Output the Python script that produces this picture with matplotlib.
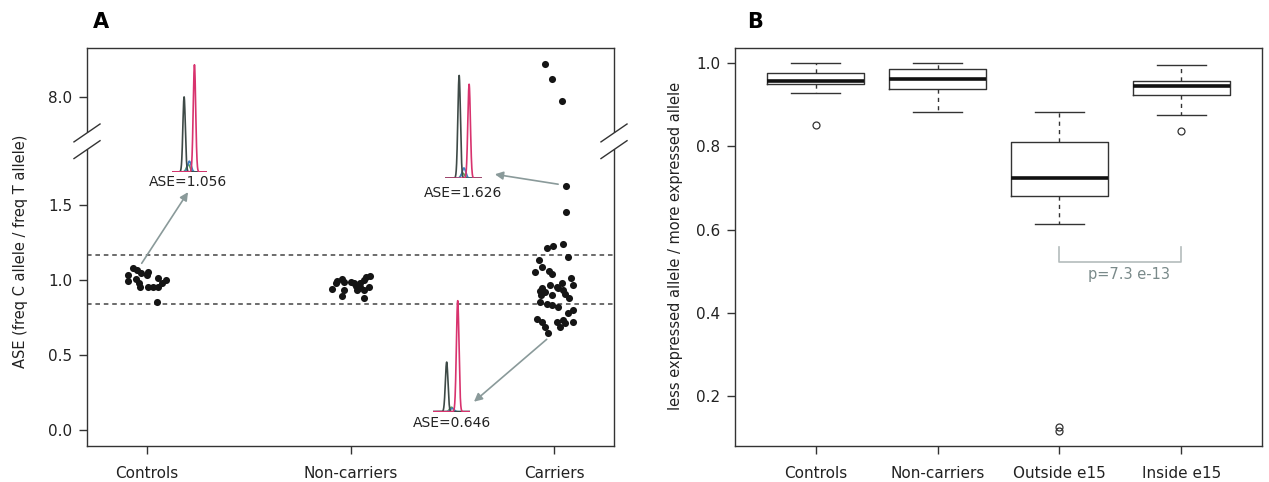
import numpy as np
import matplotlib
matplotlib.use("Agg")
import matplotlib.pyplot as plt

plt.rcParams['font.family'] = ['DejaVu Sans']

# ---- panel A data: ASE per sample (x jitter) ----
groups_a = ["Controls", "Non-carriers", "Carriers"]

controls_ase = [1.078, 1.067, 1.049, 1.056, 1.033, 1.033, 0.996, 1.004, 0.978,
                0.956, 0.956, 0.951, 1.011, 0.978, 1.000, 0.956, 0.851]
controls_jit = [-0.067, -0.051, -0.031, 0.006, -0.001, -0.092, -0.092, -0.056, -0.039,
                -0.034, 0.006, 0.031, 0.056, 0.072, 0.092, 0.056, 0.048]

noncarr_ase = [0.996, 1.004, 0.989, 0.938, 0.978, 0.933, 0.893, 0.989, 0.982, 0.960,
               0.944, 0.978, 1.000, 1.022, 1.027, 0.956, 0.933, 0.882, 0.933, 0.956]
noncarr_jit = [-0.065, -0.041, -0.033, -0.090, -0.069, -0.033, -0.041, 0.000, 0.016, 0.025,
               0.041, 0.049, 0.065, 0.074, 0.098, 0.090, 0.065, 0.065, 0.033, 0.049]

carriers_ase = [1.211, 1.227, 1.238, 1.156, 1.133, 1.089, 1.056, 1.062, 1.040, 1.011,
                0.967, 0.978, 0.956, 0.967, 0.944, 0.929, 0.922, 0.900, 0.944, 0.933,
                0.907, 0.878, 0.856, 0.840, 0.833, 0.818, 0.800, 0.778, 0.738, 0.722,
                0.722, 0.733, 0.722, 0.684, 0.646, 0.689, 0.711, 0.900, 1.626, 1.453,
                8.545, 8.295, 7.930]
carriers_jit = [-0.036, -0.003, 0.043, 0.070, -0.072, -0.057, -0.093, -0.023, -0.008, 0.082,
                0.095, 0.038, 0.013, -0.020, -0.060, -0.069, -0.044, -0.011, 0.021, 0.046,
                0.054, 0.075, -0.069, -0.036, -0.011, 0.021, 0.095, 0.070, -0.085, -0.060,
                0.013, 0.046, 0.095, -0.044, -0.028, 0.029, 0.054, -0.065, 0.057, 0.059,
                -0.044, -0.011, 0.041]

ase_upper = 1.17
ase_lower = 0.84
yticks_a = [0.0, 0.5, 1.0, 1.5, 8.0]
ylabels_a = ["0.0", "0.5", "1.0", "1.5", "8.0"]

# broken y axis: value knots -> drawn position knots
val_knots = [-1.0, 1.92, 7.4, 10.0]
pos_knots = [-1.0, 1.92, 1.982, 3.022]

# example chromatograms: (centre, height) of grey / red / small peaks
chrom_1056 = {"grey": (0.35, 0.70), "red": (0.646, 1.0), "blue": (0.50, 0.10), "green": (0.47, 0.07)}
chrom_1626 = {"grey": (0.39, 1.0), "red": (0.662, 0.914), "blue": (0.52, 0.10), "green": (0.49, 0.05)}
chrom_0646 = {"grey": (0.37, 0.447), "red": (0.668, 1.0), "blue": (0.52, 0.03), "green": (0.50, 0.04)}

# ---- panel B data: box statistics ----
groups_b = ["Controls", "Non-carriers", "Outside e15", "Inside e15"]
b_whislo = [0.927, 0.883, 0.614, 0.874]
b_q1 = [0.950, 0.938, 0.680, 0.922]
b_med = [0.956, 0.961, 0.723, 0.944]
b_q3 = [0.977, 0.985, 0.811, 0.958]
b_whishi = [0.999, 0.999, 0.883, 0.996]
b_fliers = [[0.850], [], [0.125, 0.116], [0.837]]
p_text = "p=7.3 e-13"

dark = "#333333"
arrow_col = "#8a9a9a"

fig = plt.figure(figsize=(12.69, 4.82), dpi=100)
axA = fig.add_axes([87/1269, 36.3/482, 527/1269, 397.4/482])
axB = fig.add_axes([735/1269, 36.3/482, 527/1269, 397.4/482])


def fwd(v):
    return np.interp(v, val_knots, pos_knots)


def inv(p):
    return np.interp(p, pos_knots, val_knots)


axA.set_yscale('function', functions=(fwd, inv))

for i, (vals, jit) in enumerate([(controls_ase, controls_jit),
                                 (noncarr_ase, noncarr_jit),
                                 (carriers_ase, carriers_jit)]):
    xs = [i + 1 + j for j in jit]
    axA.scatter(xs, vals, s=26, color="#151515", zorder=3, linewidths=0)

for yv in (ase_upper, ase_lower):
    axA.axhline(yv, color="#444444", lw=1.1, ls=(0, (3, 2.5)), zorder=1)

axA.set_xlim(0.705, 3.295)
axA.set_ylim(-0.105, 8.81)
axA.set_xticks([1, 2, 3])
axA.set_xticklabels(groups_a)
axA.set_yticks(yticks_a)
axA.set_yticklabels(ylabels_a)
axA.minorticks_off()
axA.set_ylabel("ASE (freq C allele / freq T allele)", fontsize=10.5, color="#222222")
axA.yaxis.set_label_coords(-0.112, 0.49)

# axis break marks
for xs in (0.0, 1.0):
    axA.add_patch(plt.Rectangle((xs - 0.01, 0.749), 0.02, 0.038, transform=axA.transAxes,
                                color="white", clip_on=False, zorder=5))
    for yc in (0.787, 0.745):
        axA.plot([xs - 0.0247, xs + 0.0247], [yc - 0.0225, yc + 0.0225], transform=axA.transAxes,
                 color=dark, lw=1.0, clip_on=False, zorder=6)

# chromatogram insets
grid = np.linspace(0, 1, 300)
chrom_cols = {"grey": "#3e4a47", "red": "#d8336e", "blue": "#3f7fc4", "green": "#5aa55a"}


def draw_chrom(bounds, peaks, label, label_xy):
    ins = axA.inset_axes(bounds)
    ins.axis("off")
    ins.set_xlim(0, 1)
    ins.set_ylim(0, 1.02)
    ins.plot([0, 1], [0.0, 0.0], color="#3e4a47", lw=1.0)
    for key in ("green", "blue", "grey", "red"):
        c, h = peaks[key]
        w = 0.035 if key in ("grey", "red") else 0.05
        ins.plot(grid, h * np.exp(-0.5 * ((grid - c) / w) ** 2), color=chrom_cols[key], lw=1.2)
    axA.text(label_xy[0], label_xy[1], label, transform=axA.transAxes, ha="center", va="center",
             fontsize=10, color="#222222")


draw_chrom([0.161, 0.689, 0.0664, 0.275], chrom_1056, "ASE=1.056", (0.192, 0.664))
draw_chrom([0.679, 0.673, 0.0696, 0.264], chrom_1626, "ASE=1.626", (0.7135, 0.636))
draw_chrom([0.6565, 0.0856, 0.0702, 0.285], chrom_0646, "ASE=0.646", (0.6926, 0.0564))

arrow_kw = dict(arrowstyle="-|>", color=arrow_col, lw=1.2, mutation_scale=12, shrinkA=0, shrinkB=0)
for tail, head in [((0.1038, 0.459), (0.1917, 0.638)),
                   ((0.894, 0.658), (0.774, 0.683)),
                   ((0.8723, 0.2677), (0.7343, 0.1107))]:
    axA.annotate("", xy=head, xytext=tail, xycoords="axes fraction", textcoords="axes fraction",
                 arrowprops=arrow_kw)

# ---- panel B ----
stats = []
for i in range(len(groups_b)):
    stats.append(dict(med=b_med[i], q1=b_q1[i], q3=b_q3[i], whislo=b_whislo[i],
                      whishi=b_whishi[i], fliers=b_fliers[i]))

axB.bxp(stats, positions=[1, 2, 3, 4], widths=0.8, capwidths=0.4, showfliers=True,
        boxprops=dict(color=dark, lw=1.0),
        medianprops=dict(color="#111111", lw=2.6),
        whiskerprops=dict(color=dark, lw=1.0, ls=(0, (3, 3))),
        capprops=dict(color=dark, lw=1.0),
        flierprops=dict(marker="o", markerfacecolor="none", markeredgecolor=dark,
                        markersize=5, markeredgewidth=0.9))

axB.set_xlim(0.34, 4.66)
axB.set_ylim(0.0806, 1.0354)
axB.set_xticks([1, 2, 3, 4])
axB.set_xticklabels(groups_b)
axB.set_yticks([0.2, 0.4, 0.6, 0.8, 1.0])
axB.set_yticklabels(["0.2", "0.4", "0.6", "0.8", "1.0"])
axB.set_ylabel("less expressed allele / more expressed allele", fontsize=10.5, color="#222222")
axB.yaxis.set_label_coords(-0.099, 0.503)

axB.plot([3, 3, 4, 4], [0.557, 0.523, 0.523, 0.557], color="#b4bcbc", lw=1.2)
axB.text(3.57, 0.493, p_text, ha="center", va="center", fontsize=10.5, color="#7a8a8a")

for ax in (axA, axB):
    for sp in ax.spines.values():
        sp.set_color(dark)
        sp.set_linewidth(1.0)
    ax.tick_params(axis="both", direction="out", length=5.5, width=1.0, color=dark,
                   labelsize=11, labelcolor="#222222")
    ax.tick_params(axis="x", pad=9)
    ax.tick_params(axis="y", pad=5)

fig.text(101/1269, 1 - 22/482, "A", fontsize=15, fontweight="bold", ha="center", va="center")
fig.text(755/1269, 1 - 22/482, "B", fontsize=15, fontweight="bold", ha="center", va="center")

fig.savefig("out.png", dpi=100)
